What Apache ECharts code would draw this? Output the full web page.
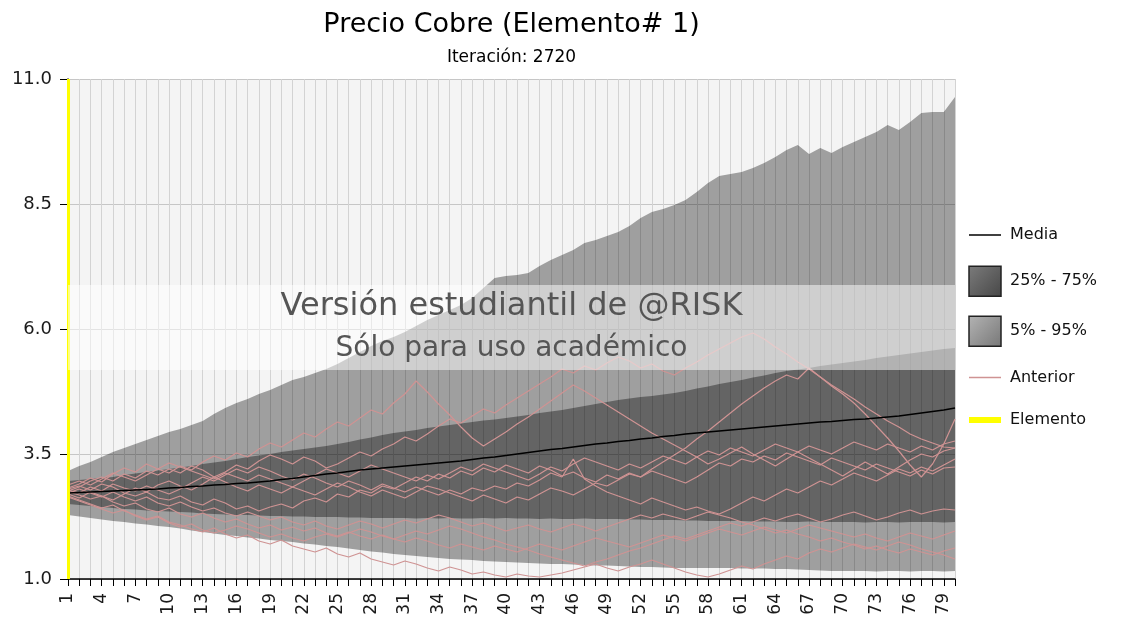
<!DOCTYPE html>
<html>
<head>
<meta charset="utf-8">
<script src="https://cdn.jsdelivr.net/npm/echarts@6/dist/echarts.min.js"></script>
<style>
  html, body { margin: 0; padding: 0; background: #fff; }
  #chart { width: 1129px; height: 621px; }
</style>
</head>
<body>
<div id="chart"></div>
<script>
// periodos 1..80
const periods = Array.from({ length: 80 }, (_, i) => String(i + 1))
const yTicks = [1.0, 3.5, 6.0, 8.5, 11.0]

// percentiles
const p5 = [
  2.28, 2.25, 2.22, 2.19, 2.16, 2.14, 2.11, 2.09, 2.06, 2.04,
  2.01, 1.97, 1.94, 1.91, 1.88, 1.86, 1.83, 1.81, 1.78, 1.76,
  1.74, 1.71, 1.69, 1.66, 1.64, 1.61, 1.58, 1.55, 1.53, 1.50,
  1.48, 1.46, 1.44, 1.42, 1.40, 1.39, 1.38, 1.36, 1.35, 1.34,
  1.33, 1.32, 1.31, 1.30, 1.30, 1.29, 1.28, 1.27, 1.27, 1.26,
  1.25, 1.24, 1.24, 1.23, 1.22, 1.22, 1.22, 1.22, 1.22, 1.22,
  1.21, 1.21, 1.21, 1.20, 1.20, 1.19, 1.18, 1.17, 1.16, 1.16,
  1.16, 1.16, 1.15, 1.16, 1.16, 1.15, 1.16, 1.16, 1.15, 1.16
]
const p25 = [
  2.50, 2.48, 2.46, 2.44, 2.42, 2.40, 2.39, 2.37, 2.36, 2.35,
  2.34, 2.33, 2.31, 2.30, 2.29, 2.28, 2.28, 2.27, 2.26, 2.26,
  2.25, 2.25, 2.24, 2.24, 2.24, 2.23, 2.23, 2.22, 2.22, 2.22,
  2.22, 2.21, 2.22, 2.21, 2.22, 2.21, 2.21, 2.22, 2.21, 2.22,
  2.21, 2.21, 2.20, 2.21, 2.20, 2.20, 2.21, 2.20, 2.20, 2.20,
  2.19, 2.19, 2.18, 2.18, 2.18, 2.17, 2.17, 2.16, 2.16, 2.16,
  2.16, 2.15, 2.15, 2.15, 2.14, 2.14, 2.15, 2.14, 2.14, 2.14,
  2.14, 2.13, 2.14, 2.14, 2.13, 2.14, 2.14, 2.14, 2.13, 2.14
]
const p75 = [
  2.96, 2.98, 3.00, 3.02, 3.04, 3.08, 3.11, 3.14, 3.17, 3.20,
  3.23, 3.26, 3.30, 3.33, 3.36, 3.40, 3.44, 3.47, 3.50, 3.54,
  3.57, 3.60, 3.63, 3.66, 3.70, 3.74, 3.79, 3.83, 3.88, 3.92,
  3.95, 3.98, 4.02, 4.05, 4.08, 4.11, 4.14, 4.17, 4.19, 4.22,
  4.25, 4.28, 4.32, 4.35, 4.38, 4.42, 4.46, 4.50, 4.54, 4.58,
  4.61, 4.64, 4.66, 4.69, 4.72, 4.76, 4.81, 4.85, 4.90, 4.94,
  4.98, 5.03, 5.07, 5.12, 5.16, 5.19, 5.22, 5.26, 5.29, 5.32,
  5.35, 5.38, 5.42, 5.45, 5.48, 5.51, 5.54, 5.57, 5.60, 5.62
]
const p95 = [
  3.16, 3.26, 3.34, 3.44, 3.54, 3.62, 3.70, 3.78, 3.86, 3.94,
  4.00, 4.08, 4.16, 4.30, 4.42, 4.52, 4.60, 4.70, 4.78, 4.88,
  4.98, 5.04, 5.12, 5.20, 5.30, 5.42, 5.54, 5.66, 5.76, 5.84,
  5.94, 6.06, 6.18, 6.28, 6.38, 6.48, 6.62, 6.82, 7.02, 7.06,
  7.08, 7.12, 7.26, 7.38, 7.48, 7.58, 7.72, 7.78, 7.86, 7.94,
  8.06, 8.22, 8.34, 8.40, 8.48, 8.58, 8.74, 8.92, 9.06, 9.10,
  9.14, 9.22, 9.32, 9.44, 9.58, 9.68, 9.50, 9.62, 9.52, 9.64,
  9.74, 9.84, 9.94, 10.08, 9.98, 10.14, 10.32, 10.34, 10.34, 10.64
]
const media = [
  2.72, 2.73, 2.74, 2.75, 2.76, 2.77, 2.78, 2.79, 2.80, 2.82,
  2.83, 2.85, 2.86, 2.88, 2.89, 2.91, 2.92, 2.94, 2.96, 2.99,
  3.01, 3.04, 3.07, 3.10, 3.12, 3.15, 3.18, 3.20, 3.22, 3.24,
  3.26, 3.28, 3.30, 3.32, 3.34, 3.36, 3.39, 3.42, 3.44, 3.47,
  3.50, 3.53, 3.56, 3.59, 3.61, 3.64, 3.67, 3.70, 3.72, 3.75,
  3.77, 3.80, 3.82, 3.85, 3.87, 3.90, 3.92, 3.94, 3.96, 3.98,
  4.00, 4.02, 4.04, 4.06, 4.08, 4.10, 4.12, 4.14, 4.15, 4.17,
  4.19, 4.20, 4.22, 4.24, 4.26, 4.29, 4.32, 4.35, 4.38, 4.42
]

// iteraciones anteriores (lineas rosadas)
const anterior1 = [
  2.80, 2.86, 2.78, 2.90, 2.84, 2.72, 2.66, 2.74, 2.62, 2.58,
  2.66, 2.54, 2.48, 2.60, 2.52, 2.40, 2.46, 2.36, 2.44, 2.50,
  2.42, 2.56, 2.62, 2.54, 2.70, 2.64, 2.78, 2.72, 2.86, 2.80,
  2.92, 3.04, 2.96, 3.10, 3.02, 3.16, 3.08, 3.22, 3.14, 3.28,
  3.20, 3.12, 3.26, 3.18, 3.06, 3.14, 3.02, 2.94, 3.08, 3.00,
  3.12, 3.04, 3.20, 3.34, 3.48, 3.62, 3.80, 3.96, 4.14, 4.32,
  4.50, 4.66, 4.82, 4.96, 5.08, 5.00, 5.22, 5.04, 4.86, 4.70,
  4.52, 4.30, 4.06, 3.82, 3.56, 3.28, 3.04, 3.30, 3.70, 4.20
]
const anterior2 = [
  2.76, 2.84, 2.96, 3.04, 2.96, 3.10, 3.02, 3.16, 3.08, 3.20,
  3.12, 3.26, 3.18, 3.04, 3.14, 3.28, 3.20, 3.36, 3.48, 3.40,
  3.30, 3.44, 3.36, 3.22, 3.30, 3.42, 3.54, 3.46, 3.60, 3.70,
  3.84, 3.76, 3.90, 4.06, 4.20, 4.12, 4.26, 4.40, 4.32, 4.48,
  4.62, 4.76, 4.90, 5.04, 5.20, 5.12, 5.26, 5.18, 5.32, 5.44,
  5.36, 5.22, 5.30, 5.16, 5.08, 5.22, 5.34, 5.48, 5.60, 5.72,
  5.84, 5.92, 5.80, 5.64, 5.50, 5.34, 5.20, 5.04, 4.88, 4.74,
  4.60, 4.44, 4.30, 4.16, 4.04, 3.90, 3.80, 3.72, 3.64, 3.62
]
const anterior3 = [
  2.82, 2.90, 3.02, 2.94, 3.10, 3.22, 3.14, 3.30, 3.20, 3.12,
  3.26, 3.18, 3.34, 3.46, 3.38, 3.52, 3.44, 3.60, 3.72, 3.64,
  3.78, 3.92, 3.84, 4.00, 4.14, 4.06, 4.22, 4.38, 4.30, 4.52,
  4.70, 4.96, 4.74, 4.50, 4.28, 4.04, 3.82, 3.66, 3.80, 3.94,
  4.10, 4.24, 4.40, 4.56, 4.72, 4.88, 4.76, 4.62, 4.48, 4.34,
  4.20, 4.06, 3.92, 3.80, 3.68, 3.56, 3.44, 3.30, 3.40, 3.52,
  3.64, 3.50, 3.38, 3.26, 3.40, 3.54, 3.42, 3.30, 3.18, 3.06,
  3.20, 3.34, 3.22, 3.10, 3.24, 3.38, 3.50, 3.44, 3.56, 3.62
]
const anterior4 = [
  2.70, 2.62, 2.74, 2.66, 2.58, 2.70, 2.82, 2.74, 2.88, 2.96,
  2.86, 2.78, 2.90, 3.04, 2.94, 2.84, 2.76, 2.88, 2.80, 2.72,
  2.84, 2.76, 2.68, 2.80, 2.92, 2.84, 2.74, 2.66, 2.78, 2.70,
  2.62, 2.74, 2.86, 2.80, 2.72, 2.64, 2.56, 2.68, 2.60, 2.52,
  2.64, 2.58, 2.70, 2.82, 2.76, 2.68, 2.80, 2.92, 2.86, 2.98,
  3.10, 3.04, 3.16, 3.08, 3.00, 2.92, 3.04, 3.18, 3.32, 3.26,
  3.40, 3.34, 3.46, 3.38, 3.52, 3.44, 3.36, 3.28, 3.42, 3.34,
  3.26, 3.18, 3.30, 3.22, 3.14, 3.06, 3.18, 3.10, 3.22, 3.24
]
const anterior5 = [
  2.66, 2.58, 2.50, 2.42, 2.48, 2.36, 2.28, 2.20, 2.26, 2.14,
  2.08, 2.00, 1.94, 2.02, 1.90, 1.82, 1.88, 1.76, 1.70, 1.78,
  1.66, 1.60, 1.54, 1.62, 1.50, 1.44, 1.52, 1.40, 1.34, 1.28,
  1.36, 1.30, 1.22, 1.16, 1.24, 1.18, 1.10, 1.14, 1.08, 1.04,
  1.10, 1.06, 1.04, 1.08, 1.12, 1.18, 1.24, 1.30, 1.22, 1.16,
  1.24, 1.30, 1.38, 1.30, 1.22, 1.14, 1.08, 1.04, 1.10, 1.18,
  1.26, 1.20, 1.30, 1.38, 1.46, 1.40, 1.52, 1.60, 1.54, 1.62,
  1.70, 1.64, 1.58, 1.66, 1.74, 1.68, 1.60, 1.54, 1.48, 1.40
]
const anterior6 = [
  2.74, 2.68, 2.60, 2.66, 2.54, 2.46, 2.52, 2.40, 2.34, 2.42,
  2.30, 2.24, 2.32, 2.22, 2.14, 2.20, 2.10, 2.02, 2.08, 1.98,
  2.04, 1.96, 2.02, 1.92, 1.86, 1.94, 1.86, 1.80, 1.88, 1.80,
  1.74, 1.82, 1.76, 1.68, 1.62, 1.70, 1.64, 1.58, 1.66, 1.60,
  1.54, 1.62, 1.70, 1.64, 1.58, 1.66, 1.74, 1.82, 1.76, 1.70,
  1.64, 1.72, 1.80, 1.88, 1.82, 1.76, 1.84, 1.92, 2.00, 1.94,
  1.88, 1.96, 2.04, 1.98, 1.92, 2.00, 2.08, 2.02, 1.96, 1.90,
  1.84, 1.90, 1.82, 1.76, 1.84, 1.92, 1.86, 1.80, 1.88, 1.96
]
const anterior7 = [
  2.88, 2.96, 2.88, 3.00, 3.12, 3.04, 2.96, 3.08, 3.20, 3.32,
  3.24, 3.16, 3.08, 3.00, 3.12, 3.04, 2.96, 3.08, 3.00, 2.92,
  2.84, 2.96, 3.08, 3.20, 3.12, 3.04, 3.16, 3.28, 3.20, 3.12,
  3.04, 2.96, 3.08, 3.00, 3.12, 3.24, 3.16, 3.30, 3.22, 3.14,
  3.06, 2.98, 3.10, 3.24, 3.16, 3.30, 3.42, 3.34, 3.26, 3.18,
  3.30, 3.22, 3.34, 3.46, 3.38, 3.30, 3.44, 3.56, 3.48, 3.62,
  3.54, 3.46, 3.58, 3.70, 3.62, 3.54, 3.66, 3.58, 3.50, 3.62,
  3.74, 3.66, 3.58, 3.70, 3.62, 3.54, 3.66, 3.58, 3.70, 3.76
]
const anterior8 = [
  2.64, 2.56, 2.48, 2.40, 2.32, 2.38, 2.26, 2.18, 2.24, 2.12,
  2.04, 2.10, 1.98, 1.92, 1.98, 2.06, 2.00, 1.92, 1.84, 1.90,
  1.82, 1.76, 1.84, 1.90, 1.84, 1.92, 2.00, 1.94, 1.86, 1.80,
  1.88, 1.96, 1.90, 1.98, 2.06, 2.00, 1.92, 1.84, 1.78, 1.70,
  1.64, 1.58, 1.50, 1.44, 1.38, 1.32, 1.26, 1.34, 1.40, 1.48,
  1.56, 1.62, 1.70, 1.78, 1.86, 1.80, 1.88, 1.96, 2.04, 2.12,
  2.06, 2.14, 2.22, 2.16, 2.24, 2.30, 2.22, 2.14, 2.20, 2.28,
  2.34, 2.26, 2.18, 2.24, 2.32, 2.38, 2.30, 2.36, 2.40, 2.38
]
const anterior9 = [
  2.78, 2.72, 2.84, 2.76, 2.90, 2.82, 2.76, 2.86, 2.78, 2.70,
  2.80, 2.92, 3.04, 2.96, 3.08, 3.20, 3.12, 3.24, 3.16, 3.06,
  2.98, 3.10, 3.02, 2.92, 2.84, 2.96, 2.88, 2.78, 2.90, 2.82,
  2.74, 2.84, 2.76, 2.68, 2.78, 2.70, 2.82, 2.76, 2.86, 2.80,
  2.92, 2.86, 2.98, 3.12, 3.04, 3.40, 3.00, 2.86, 2.74, 2.66,
  2.58, 2.50, 2.62, 2.54, 2.46, 2.38, 2.44, 2.36, 2.30, 2.40,
  2.52, 2.64, 2.56, 2.68, 2.80, 2.72, 2.84, 2.96, 2.88, 3.00,
  3.12, 3.04, 2.96, 3.08, 3.20, 3.12, 3.24, 3.16, 3.28, 3.40
]
const anterior10 = [
  2.72, 2.80, 2.72, 2.64, 2.74, 2.64, 2.56, 2.64, 2.52, 2.46,
  2.54, 2.44, 2.36, 2.42, 2.32, 2.26, 2.34, 2.26, 2.18, 2.24,
  2.14, 2.08, 2.16, 2.06, 2.00, 2.08, 2.16, 2.10, 2.02, 2.10,
  2.18, 2.12, 2.20, 2.28, 2.22, 2.14, 2.06, 2.12, 2.04, 1.96,
  2.02, 2.08, 2.00, 1.94, 2.02, 2.10, 2.04, 1.96, 2.04, 2.12,
  2.20, 2.28, 2.22, 2.30, 2.24, 2.18, 2.26, 2.34, 2.28, 2.22,
  2.14, 2.08, 2.00, 1.92, 1.98, 1.90, 1.84, 1.76, 1.82, 1.74,
  1.68, 1.60, 1.66, 1.58, 1.52, 1.60, 1.54, 1.48, 1.56, 1.62
]
const anteriores = [anterior1, anterior2, anterior3, anterior4, anterior5,
  anterior6, anterior7, anterior8, anterior9, anterior10]

const GRID_LEFT = 68
const GRID_TOP = 79
const GRID_RIGHT = 174
const GRID_BOTTOM = 42
const PLOT_W = 1129 - GRID_LEFT - GRID_RIGHT
const PLOT_CX = GRID_LEFT + PLOT_W / 2
const FONT = 'DejaVu Sans'

const chart = echarts.init(document.getElementById('chart'))

// bandas apiladas: base invisible + ancho de la banda
const diff = (hi, lo) => hi.map((v, i) => +(v - lo[i]).toFixed(2))
const baseLine = { type: 'line', symbol: 'none', silent: true, lineStyle: { opacity: 0 } }

const series = [
  { ...baseLine, name: 'p5', stack: 'outer', data: p5 },
  {
    ...baseLine, name: '5% - 95%', stack: 'outer', data: diff(p95, p5),
    areaStyle: { color: 'rgba(0,0,0,0.35)', opacity: 1 }
  },
  { ...baseLine, name: 'p25', stack: 'inner', data: p25 },
  {
    ...baseLine, name: '25% - 75%', stack: 'inner', data: diff(p75, p25),
    areaStyle: { color: 'rgba(0,0,0,0.37)', opacity: 1 }
  }
]

anteriores.forEach(arr => {
  series.push({
    name: 'Anterior',
    type: 'line',
    symbol: 'none',
    silent: true,
    data: arr,
    itemStyle: { color: '#cf9393' },
    lineStyle: { color: '#cf9393', width: 1.2 },
    z: 3
  })
})

series.push({
  name: 'Media',
  type: 'line',
  symbol: 'none',
  data: media,
  itemStyle: { color: '#000' },
  lineStyle: { color: '#000', width: 1.7 },
  z: 4
})

series.push({
  name: 'Elemento',
  type: 'line',
  symbol: 'none',
  data: [],
  itemStyle: { color: '#ffff00' },
  lineStyle: { color: '#ffff00', width: 3 },
  z: 5,
  markLine: {
    silent: true,
    symbol: ['none', 'none'],
    label: { show: false },
    lineStyle: { color: '#ffff00', width: 3, type: 'solid' },
    data: [{ xAxis: '1' }]
  }
})

// icono de linea sin simbolo en la leyenda
const lineLegend = (name, width) => ({
  name: name,
  lineStyle: { width: width },
  itemStyle: { opacity: 0 }
})

const option = {
  animation: false,
  backgroundColor: '#fff',
  textStyle: { fontFamily: FONT },
  grid: {
    left: GRID_LEFT, right: GRID_RIGHT, top: GRID_TOP, bottom: GRID_BOTTOM,
    show: true, backgroundColor: '#f4f4f4', borderWidth: 0
  },
  legend: {
    orient: 'vertical',
    left: 966,
    top: 223,
    padding: 0,
    itemWidth: 32,
    itemHeight: 30,
    itemGap: 18.5,
    selectedMode: false,
    textStyle: { fontFamily: FONT, fontSize: 16, color: '#111', padding: [0, 0, 0, 4] },
    data: [
      lineLegend('Media', 1.5),
      {
        name: '25% - 75%', icon: 'rect',
        itemStyle: {
          color: { type: 'linear', x: 0, y: 0, x2: 1, y2: 1, colorStops: [
            { offset: 0, color: '#7c7c7c' }, { offset: 1, color: '#474747' }] },
          borderColor: '#222', borderWidth: 1.5
        }
      },
      {
        name: '5% - 95%', icon: 'rect',
        itemStyle: {
          color: { type: 'linear', x: 0, y: 0, x2: 1, y2: 1, colorStops: [
            { offset: 0, color: '#b4b4b4' }, { offset: 1, color: '#777' }] },
          borderColor: '#222', borderWidth: 1.5
        }
      },
      lineLegend('Anterior', 1.5),
      lineLegend('Elemento', 6)
    ]
  },
  xAxis: {
    type: 'category',
    boundaryGap: false,
    data: periods,
    axisLine: { lineStyle: { color: '#000', width: 1.5 } },
    axisTick: { interval: 0, length: 7, lineStyle: { color: '#000' } },
    axisLabel: {
      interval: 2, rotate: 90, margin: 14,
      fontFamily: FONT, fontSize: 17, color: '#1a1a1a'
    },
    splitLine: { show: true, interval: 0, lineStyle: { color: '#d3d3d3', width: 1 } }
  },
  yAxis: {
    type: 'value',
    min: yTicks[0],
    max: yTicks[yTicks.length - 1],
    interval: 2.5,
    axisLine: { show: true, lineStyle: { color: '#000', width: 1.5 } },
    axisTick: { show: true, length: 8, lineStyle: { color: '#000' } },
    axisLabel: {
      margin: 16, fontFamily: FONT, fontSize: 18, color: '#1a1a1a',
      formatter: v => v.toFixed(1)
    },
    splitLine: { show: true, lineStyle: { color: '#c6c6c6', width: 1 } }
  },
  graphic: [
    {
      type: 'text', x: PLOT_CX, y: 25,
      style: {
        text: 'Precio Cobre (Elemento# 1)', fill: '#000',
        font: '27px "DejaVu Sans"', align: 'center', verticalAlign: 'middle'
      }
    },
    {
      type: 'text', x: PLOT_CX, y: 58,
      style: {
        text: 'Iteración: 2720', fill: '#000',
        font: '17px "DejaVu Sans"', align: 'center', verticalAlign: 'middle'
      }
    },
    // marca de agua de la version estudiantil
    {
      type: 'rect', z: 100, silent: true,
      shape: { x: GRID_LEFT, y: 285, width: PLOT_W, height: 85 },
      style: { fill: 'rgba(255,255,255,0.5)' }
    },
    {
      type: 'text', z: 101, x: PLOT_CX, y: 307, silent: true,
      style: {
        text: 'Versión estudiantil de @RISK', fill: '#555',
        font: '32px "DejaVu Sans"', align: 'center', verticalAlign: 'middle'
      }
    },
    {
      type: 'text', z: 101, x: PLOT_CX, y: 349, silent: true,
      style: {
        text: 'Sólo para uso académico', fill: '#555',
        font: '28px "DejaVu Sans"', align: 'center', verticalAlign: 'middle'
      }
    }
  ],
  series: series
}

chart.setOption(option)
</script>
</body>
</html>
